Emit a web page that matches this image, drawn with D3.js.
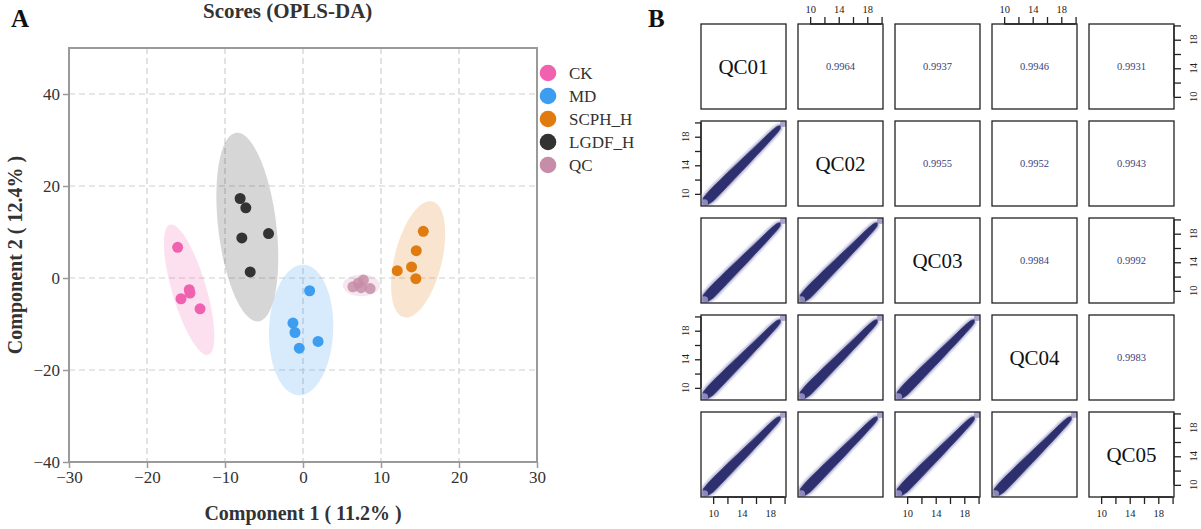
<!DOCTYPE html>
<html><head><meta charset="utf-8">
<script src="https://cdn.jsdelivr.net/npm/d3@7"></script>
<style>
body{margin:0;background:#fff}
svg{display:block}
text{font-family:"Liberation Serif","Times New Roman",serif}
</style>
</head><body>
<svg id="chart" width="1201" height="529"></svg>
<script>
// ---------- Panel A data ----------
const groups = ["CK","MD","SCPH_H","LGDF_H","QC"];
const groupColors = ["#f062b0","#3d9df0","#e07b10","#333333","#c78da8"];
const ckPoints   = [[-16.07,6.67],[-14.58,-2.55],[-14.49,-3.27],[-15.64,-4.51],[-13.2,-6.69]];
const mdPoints   = [[0.85,-2.77],[-1.29,-9.8],[-1.03,-11.85],[-0.48,-15.25],[1.93,-13.8]];
const scphPoints = [[15.42,10.15],[14.52,5.95],[13.92,2.4],[12.08,1.59],[14.47,-0.15]];
const lgdfPoints = [[-8.06,17.28],[-7.33,15.25],[-7.84,8.71],[-4.42,9.65],[-6.77,1.31]];
const qcPoints   = [[6.4,-1.9],[7.1,-1.1],[7.75,-0.45],[7.45,-2.1],[8.6,-2.3]];
// confidence ellipses: centre, half major-axis vector, half minor-axis vector (data units)
const ellipseCenters = [[-14.6,-2.55],[-0.24,-11.3],[14.76,4.05],[-7.14,11.07],[7.5,-1.6]];
const ellipseMajor   = [[2.46,-14.16],[-0.32,-14.2],[-1.83,-12.6],[1.43,-20.5],[2.4,0]];
const ellipseMinor   = [[2.1,1.05],[4.11,-0.26],[2.95,-1.22],[3.7,0.74],[0,2.35]];
const xTicks = [-30,-20,-10,0,10,20,30];
const yTicks = [-40,-20,0,20,40];
const xDomain = [-30,30];
const yDomain = [-40,50];

// ---------- Panel B data ----------
const qcNames = ["QC01","QC02","QC03","QC04","QC05"];
const corrRow1 = [0.9964,0.9937,0.9946,0.9931];
const corrRow2 = [0.9955,0.9952,0.9943];
const corrRow3 = [0.9984,0.9992];
const corrRow4 = [0.9983];
const pairDomain = [8.3,20.2];
const pairTicks = [10,12,14,16,18,20];
const pairTickLabels = ["10","","14","","18",""];
// envelope of the dense scatter cloud in each lower panel
const bandX    = [8.6, 9.0, 10, 11, 12, 13, 14, 15, 16, 17, 18, 19, 19.4];
const bandLow  = [8.6, 8.45, 9.0, 10.0, 11.05, 12.1, 13.15, 14.2, 15.3, 16.35, 17.45, 18.55, 19.1];
const bandHigh = [9.4, 9.9, 11.0, 11.95, 12.95, 13.9, 14.85, 15.8, 16.75, 17.7, 18.65, 19.45, 19.55];
const endDots  = [[19.85,19.85],[8.8,8.75]];

const svg = d3.select("#chart");

// ================= Panel A =================
const L = {left:69,right:537,top:48,bottom:462};
const x = d3.scaleLinear().domain(xDomain).range([L.left,L.right]);
const y = d3.scaleLinear().domain(yDomain).range([L.bottom,L.top]);

svg.append("text").attr("x",11).attr("y",27).attr("font-size",25).attr("font-weight","bold").attr("fill","#111").text("A");
svg.append("text").attr("x",203).attr("y",18).attr("font-size",21).attr("font-weight","bold").attr("fill","#333").text("Scores (OPLS-DA)");

const grid = svg.append("g");
grid.selectAll("line.v").data(xTicks.filter(d=>d>xDomain[0]&&d<xDomain[1])).join("line")
  .attr("x1",d=>x(d)).attr("x2",d=>x(d)).attr("y1",L.top).attr("y2",L.bottom)
  .attr("stroke","#cfcfcf").attr("stroke-width",1.2).attr("stroke-dasharray","6,4");
grid.selectAll("line.h").data(yTicks.filter(d=>d>yDomain[0]&&d<yDomain[1])).join("line")
  .attr("x1",L.left).attr("x2",L.right).attr("y1",d=>y(d)).attr("y2",d=>y(d))
  .attr("stroke","#cfcfcf").attr("stroke-width",1.2).attr("stroke-dasharray","6,4");

// ellipses
const ell = svg.append("g");
groups.forEach((g,i)=>{
  const c = ellipseCenters[i], a = ellipseMajor[i], b = ellipseMinor[i];
  const pts = d3.range(0,73).map(k=>{
    const t = k/72*2*Math.PI;
    return [x(c[0]+a[0]*Math.cos(t)+b[0]*Math.sin(t)), y(c[1]+a[1]*Math.cos(t)+b[1]*Math.sin(t))];
  });
  ell.append("path").attr("d",d3.line()(pts)+"Z").attr("fill",groupColors[i]).attr("fill-opacity",0.2).attr("stroke","none");
});

// points
const pointSets = [ckPoints,mdPoints,scphPoints,lgdfPoints,qcPoints];
const pts = svg.append("g");
pointSets.forEach((set,i)=>{
  pts.selectAll(null).data(set).join("circle")
    .attr("cx",d=>x(d[0])).attr("cy",d=>y(d[1])).attr("r",5.5)
    .attr("fill",groupColors[i]).attr("fill-opacity",groups[i]==="QC"?0.85:1);
});

// frame & axes
svg.append("rect").attr("x",L.left).attr("y",L.top).attr("width",L.right-L.left).attr("height",L.bottom-L.top)
  .attr("fill","none").attr("stroke","#9a9a9a").attr("stroke-width",2);
const xAxis = svg.append("g").attr("transform",`translate(0,${L.bottom})`)
  .call(d3.axisBottom(x).tickValues(xTicks).tickSize(6).tickSizeOuter(0).tickPadding(3));
const yAxis = svg.append("g").attr("transform",`translate(${L.left},0)`)
  .call(d3.axisLeft(y).tickValues(yTicks).tickSize(6).tickSizeOuter(0).tickPadding(3));
[xAxis,yAxis].forEach(ax=>{
  ax.select(".domain").remove();
  ax.selectAll(".tick line").attr("stroke","#9a9a9a").attr("stroke-width",1.5);
  ax.selectAll(".tick text").attr("font-family","Liberation Serif, serif").attr("font-size",17).attr("fill","#333");
});
svg.append("text").attr("x",(L.left+L.right)/2).attr("y",520).attr("text-anchor","middle")
  .attr("font-size",20).attr("font-weight","bold").attr("fill","#333").text("Component 1 ( 11.2% )");
svg.append("text").attr("transform",`translate(22,${(L.top+L.bottom)/2}) rotate(-90)`).attr("text-anchor","middle")
  .attr("font-size",20).attr("font-weight","bold").attr("fill","#333").text("Component 2 ( 12.4% )");

// legend
const leg = svg.append("g");
groups.forEach((g,i)=>{
  leg.append("circle").attr("cx",548).attr("cy",73+23*i).attr("r",8.3).attr("fill",groupColors[i]);
  leg.append("text").attr("x",569).attr("y",73+23*i).attr("dy","0.35em").attr("font-size",17).attr("fill","#333").text(g);
});

// ================= Panel B =================
svg.append("text").attr("x",648).attr("y",27).attr("font-size",25).attr("font-weight","bold").attr("fill","#111").text("B");
const P = {left0:701, top0:24, pitch:97, size:85};
const n = qcNames.length;
const corrRows = [corrRow1,corrRow2,corrRow3,corrRow4];
const defs = svg.append("defs");
defs.append("filter").attr("id","soft").attr("x","-20%").attr("y","-20%").attr("width","140%").attr("height","140%")
  .append("feGaussianBlur").attr("stdDeviation",1.0);

for(let i=0;i<n;i++){
  for(let j=0;j<n;j++){
    const bx = P.left0+P.pitch*j, by = P.top0+P.pitch*i;
    const px = d3.scaleLinear().domain(pairDomain).range([bx,bx+P.size]);
    const py = d3.scaleLinear().domain(pairDomain).range([by+P.size,by]);
    const cell = svg.append("g");
    if(i===j){
      cell.append("text").attr("x",bx+P.size/2).attr("y",by+P.size/2).attr("dy","0.35em").attr("text-anchor","middle")
        .attr("font-size",21).attr("fill","#111").text(qcNames[i]);
    } else if(j>i){
      cell.append("text").attr("x",bx+P.size/2).attr("y",by+P.size/2).attr("dy","0.35em").attr("text-anchor","middle")
        .attr("font-size",10.5).attr("fill","#3b3d78").text(corrRows[i][j-i-1].toFixed(4));
    } else {
      const cid = `clip${i}${j}`;
      defs.append("clipPath").attr("id",cid).append("rect").attr("x",bx).attr("y",by).attr("width",P.size).attr("height",P.size);
      const cg = cell.append("g").attr("clip-path",`url(#${cid})`);
      const area = d3.area().x((d,k)=>px(bandX[k])).y0((d,k)=>py(bandLow[k])).y1((d,k)=>py(bandHigh[k])).curve(d3.curveCatmullRom);
      cg.append("path").attr("d",area(bandX)).attr("fill","#7a7ab0").attr("stroke","#8585b8").attr("stroke-width",4)
        .attr("opacity",0.6).attr("filter","url(#soft)");
      cg.append("path").attr("d",area(bandX)).attr("fill","#2d2f6e").attr("stroke","#3a3c78").attr("stroke-width",0.8);
      cg.selectAll(null).data(endDots).join("circle").attr("cx",d=>px(d[0])).attr("cy",d=>py(d[1])).attr("r",3.5)
        .attr("fill","#9d96c8").attr("opacity",0.85);
    }
    cell.append("rect").attr("x",bx).attr("y",by).attr("width",P.size).attr("height",P.size)
      .attr("fill","none").attr("stroke","#222").attr("stroke-width",1.3);
    // axes like R pairs()
    const tickFont = 10.5;
    if(i===0 && j%2===1){
      const g = cell.append("g").attr("transform",`translate(0,${by})`)
        .call(d3.axisTop(px).tickValues(pairTicks).tickFormat((d,k)=>pairTickLabels[k]).tickSize(7).tickSizeOuter(0).tickPadding(4));
      g.select(".domain").attr("d",`M${px(pairTicks[0])},0H${px(pairTicks[pairTicks.length-1])}`).attr("stroke","#222").attr("stroke-width",1.3);
      g.selectAll(".tick line").attr("stroke","#222").attr("stroke-width",1.3);
      g.selectAll(".tick text").attr("font-family","Liberation Serif, serif").attr("font-size",tickFont).attr("fill","#222");
    }
    if(i===n-1 && j%2===0){
      const g = cell.append("g").attr("transform",`translate(0,${by+P.size})`)
        .call(d3.axisBottom(px).tickValues(pairTicks).tickFormat((d,k)=>pairTickLabels[k]).tickSize(7).tickSizeOuter(0).tickPadding(6));
      g.select(".domain").attr("d",`M${px(pairTicks[0])},0H${px(pairTicks[pairTicks.length-1])}`).attr("stroke","#222").attr("stroke-width",1.3);
      g.selectAll(".tick line").attr("stroke","#222").attr("stroke-width",1.3);
      g.selectAll(".tick text").attr("font-family","Liberation Serif, serif").attr("font-size",tickFont).attr("fill","#222");
    }
    if(j===0 && i%2===1){
      const g = cell.append("g").attr("transform",`translate(${bx},0)`)
        .call(d3.axisLeft(py).tickValues(pairTicks).tickFormat("").tickSize(6).tickSizeOuter(0));
      g.select(".domain").attr("d",`M0,${py(pairTicks[0])}V${py(pairTicks[pairTicks.length-1])}`).attr("stroke","#222").attr("stroke-width",1.3);
      g.selectAll(".tick line").attr("stroke","#222").attr("stroke-width",1.3);
      pairTicks.forEach((t,k)=>{ if(pairTickLabels[k]) cell.append("text")
        .attr("transform",`translate(${bx-16},${py(t)}) rotate(-90)`).attr("text-anchor","middle").attr("dy","0.35em")
        .attr("font-size",tickFont).attr("fill","#222").text(pairTickLabels[k]); });
    }
    if(j===n-1 && i%2===0){
      const g = cell.append("g").attr("transform",`translate(${bx+P.size},0)`)
        .call(d3.axisRight(py).tickValues(pairTicks).tickFormat("").tickSize(7).tickSizeOuter(0));
      g.select(".domain").attr("d",`M0,${py(pairTicks[0])}V${py(pairTicks[pairTicks.length-1])}`).attr("stroke","#222").attr("stroke-width",1.3);
      g.selectAll(".tick line").attr("stroke","#222").attr("stroke-width",1.3);
      pairTicks.forEach((t,k)=>{ if(pairTickLabels[k]) cell.append("text")
        .attr("transform",`translate(${bx+P.size+19},${py(t)}) rotate(-90)`).attr("text-anchor","middle").attr("dy","0.35em")
        .attr("font-size",tickFont).attr("fill","#222").text(pairTickLabels[k]); });
    }
  }
}
</script>
</body></html>
